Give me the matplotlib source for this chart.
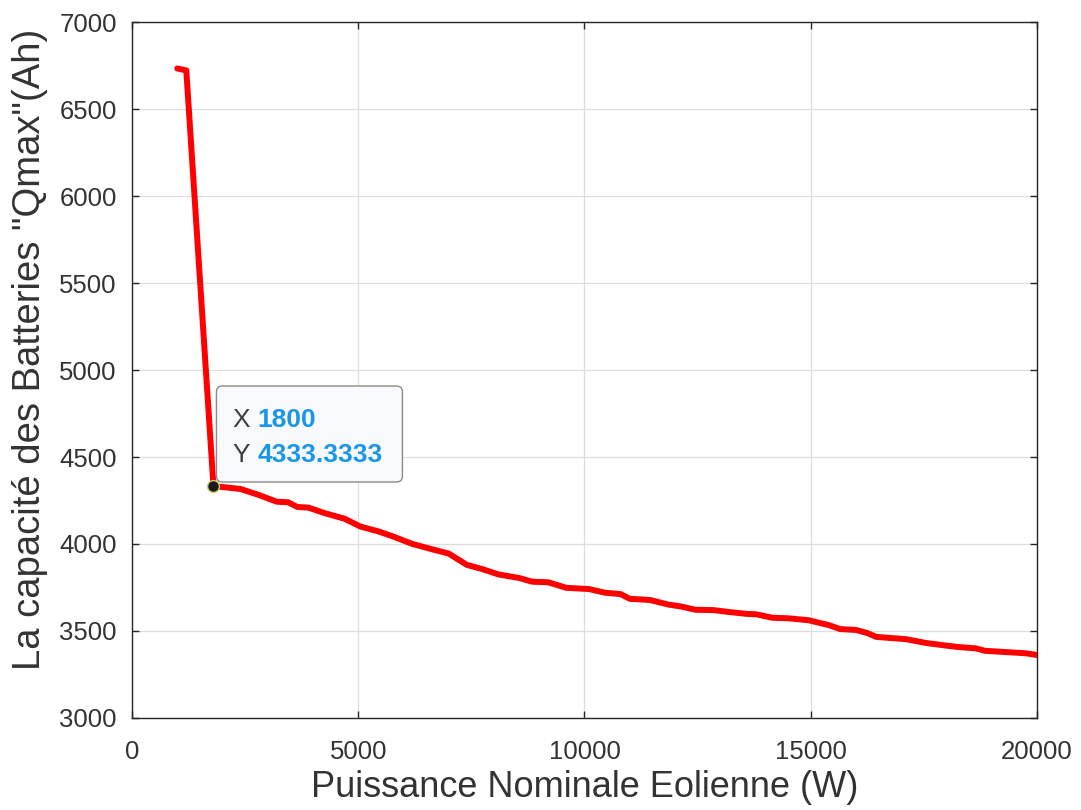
import matplotlib
matplotlib.use("Agg")
import matplotlib.pyplot as plt
import matplotlib.transforms as mtransforms
from matplotlib.patches import FancyBboxPatch

# Rated wind power (W) versus required battery capacity Qmax (Ah)
puissance_w = [1000, 1200, 1800, 2400, 2800, 3200, 3450, 3650, 3900, 4250,
               4700, 5050, 5450, 5750, 6200, 6700, 7000, 7400, 7750, 8100,
               8550, 8850, 9200, 9600, 10100, 10450, 10800, 11000, 11450, 11850,
               12150, 12450, 12850, 13200, 13600, 13800, 14150, 14500, 14950, 15200,
               15400, 15650, 16000, 16250, 16450, 16750, 17100, 17550, 17900, 18250,
               18650, 18850, 19300, 19750, 20000]
qmax_ah = [6733, 6722, 4333.3333, 4316, 4282, 4243, 4240, 4213, 4209, 4178,
           4145, 4100, 4072, 4045, 4000, 3965, 3945, 3880, 3855, 3825,
           3805, 3783, 3780, 3748, 3741, 3720, 3712, 3685, 3678, 3652,
           3640, 3622, 3620, 3609, 3598, 3596, 3576, 3573, 3562, 3546,
           3534, 3511, 3506, 3488, 3466, 3460, 3453, 3431, 3419, 3408,
           3400, 3386, 3379, 3372, 3362]

x_ticks = [0, 5000, 10000, 15000, 20000]
y_ticks = [3000, 3500, 4000, 4500, 5000, 5500, 6000, 6500, 7000]

# Selected point shown in the data tip
tip_x = 1800
tip_y = 4333.3333

plt.rcParams['font.family'] = ['Liberation Sans', 'DejaVu Sans']

dark = '#262626'
fig = plt.figure(figsize=(10.81, 8.10), dpi=100)
ax = fig.add_axes([0.1221, 0.1136, 0.8372, 0.8592])

ax.plot(puissance_w, qmax_ah, color='#ff0000', lw=4.3,
        solid_joinstyle='round', solid_capstyle='round', zorder=3)

ax.set_xlim(0, 20000)
ax.set_ylim(3000, 7000)
ax.set_xticks(x_ticks)
ax.set_yticks(y_ticks)
ax.grid(True, color='#dddddd', lw=0.9, zorder=0)
ax.set_axisbelow(True)

for sp in ax.spines.values():
    sp.set_color(dark)
    sp.set_linewidth(1.0)

ax.tick_params(axis='both', which='both', direction='in', length=5, width=1.0,
               color=dark, labelcolor='#333333', labelsize=18.5,
               top=True, right=True)
ax.tick_params(axis='x', pad=16)
ax.tick_params(axis='y', pad=11)

ax.set_xlabel('Puissance Nominale Eolienne (W)', fontsize=26, color='#333333',
              labelpad=4)
ax.set_ylabel('La capacité des Batteries "Qmax"(Ah)', fontsize=27.5,
              color='#333333')
ax.yaxis.set_label_coords(-0.093, 0.53)

# Data tip anchored at the selected point, offsets in pixels
anchor = mtransforms.IdentityTransform() + \
    mtransforms.ScaledTranslation(tip_x, tip_y, ax.transData)

ax.plot([tip_x], [tip_y], marker='o', markersize=8.5,
        markerfacecolor='#1a1a1a', markeredgecolor='#c9c96a',
        markeredgewidth=1.0, zorder=6, clip_on=False)

box = FancyBboxPatch((3, 4), 186, 96,
                     boxstyle='round,pad=0,rounding_size=6',
                     transform=anchor, facecolor='#f8f9fc',
                     edgecolor='#8a8a8a', lw=1.0, zorder=5, clip_on=False)
ax.add_patch(box)

label_kw = dict(transform=anchor, fontsize=19, zorder=7, clip_on=False,
                va='baseline', ha='left')
ax.text(19, 59, 'X', color='#404040', **label_kw)
ax.text(44, 59, f'{tip_x:g}', color='#1a96e8', fontweight='bold', **label_kw)
ax.text(19, 24, 'Y', color='#404040', **label_kw)
ax.text(44, 24, f'{tip_y:.4f}', color='#1a96e8', fontweight='bold', **label_kw)

fig.savefig('out.png', dpi=100, facecolor='white')
